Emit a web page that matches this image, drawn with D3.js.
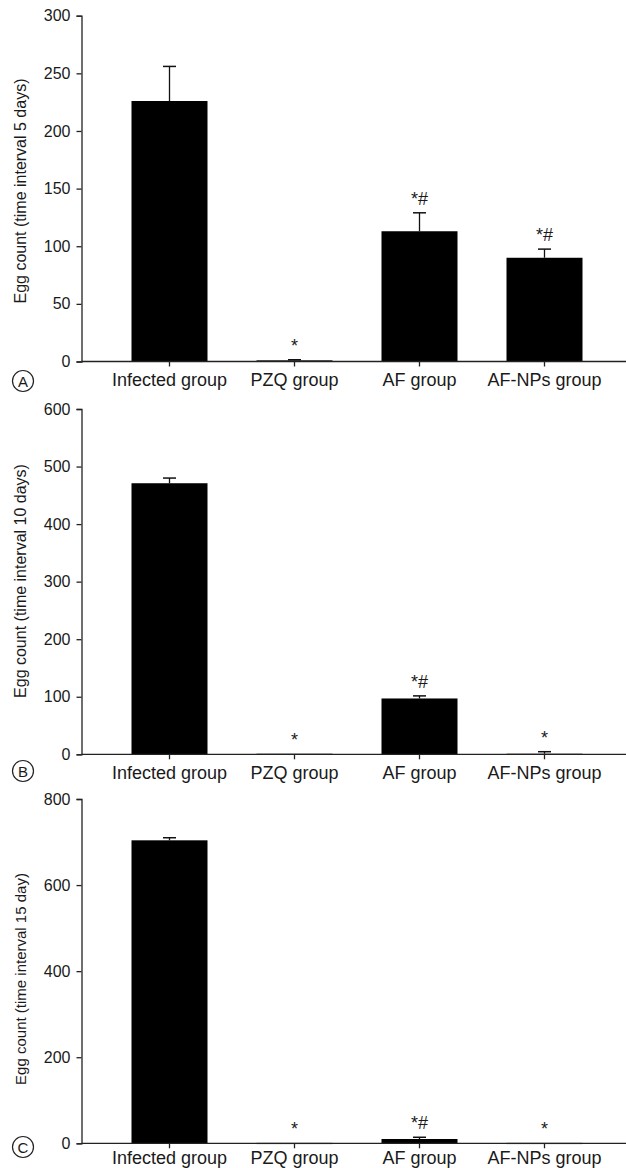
<!DOCTYPE html>
<html>
<head>
<meta charset="utf-8">
<script src="https://cdn.jsdelivr.net/npm/d3@7/dist/d3.min.js"></script>
<style>
  html, body { margin: 0; padding: 0; background: #fff; }
  svg { display: block; }
  text { font-family: "Liberation Sans", Arial, Helvetica, sans-serif; fill: #1a1a1a; }
</style>
</head>
<body>
<svg id="chart" width="626" height="1168"></svg>
<script>
// ---- Data ----
const categories = ["Infected group", "PZQ group", "AF group", "AF-NPs group"];

const panelLabels = ["A", "B", "C"];
const yTitles = [
  "Egg count (time interval 5 days)",
  "Egg count (time interval 10 days)",
  "Egg count (time interval 15 day)"
];
const yMax = [300, 600, 800];
const yTickValues = [
  [0, 50, 100, 150, 200, 250, 300],
  [0, 100, 200, 300, 400, 500, 600],
  [0, 200, 400, 600, 800]
];

const means5  = [226, 1, 113, 90];
const errors5 = [30, 0.5, 16, 7.5];
const marks5  = ["", "*", "*#", "*#"];

const means10  = [471, 1, 97, 1];
const errors10 = [9, 0, 4.5, 3.5];
const marks10  = ["", "*", "*#", "*"];

const means15  = [704, 1, 10, 1];
const errors15 = [6, 0, 4, 0];
const marks15  = ["", "*", "*#", "*"];

const seriesMeans = [means5, means10, means15];
const seriesErrors = [errors5, errors10, errors15];
const seriesMarks = [marks5, marks10, marks15];

// ---- Layout ----
const svg = d3.select("#chart");
const axisX = 81.5;
const panels = [
  { top: 15.7, bottom: 361.5, titleY: 191, titleSize: 16, circleY: 381, labelPad: 7 },
  { top: 409, bottom: 754.3, titleY: 581, titleSize: 16, circleY: 771, labelPad: 7 },
  { top: 799, bottom: 1143.3, titleY: 979, titleSize: 15, circleY: 1147, labelPad: 3 }
];

const x = d3.scaleBand()
  .domain(categories)
  .range([107, 607])
  .paddingInner(0.392)
  .paddingOuter(0.196);

panels.forEach((p, i) => {
  const g = svg.append("g");
  const y = d3.scaleLinear().domain([0, yMax[i]]).range([p.bottom, p.top]);
  const means = seriesMeans[i], errs = seriesErrors[i], marks = seriesMarks[i];
  const data = categories.map((c, k) => ({ c, m: means[k], e: errs[k], s: marks[k] }));

  // bars
  g.selectAll("rect.bar").data(data).join("rect")
    .attr("class", "bar")
    .attr("x", d => x(d.c))
    .attr("width", x.bandwidth())
    .attr("y", d => y(d.m))
    .attr("height", d => Math.max(1.2, y(0) - y(d.m)))
    .attr("fill", "#000");

  // error bars (upper only)
  const cx = d => x(d.c) + x.bandwidth() / 2;
  const eb = g.selectAll("g.err").data(data.filter(d => d.e > 0)).join("g").attr("class", "err");
  eb.append("line")
    .attr("x1", cx).attr("x2", cx)
    .attr("y1", d => y(d.m)).attr("y2", d => y(d.m + d.e))
    .attr("stroke", "#111").attr("stroke-width", 1.3);
  eb.append("line")
    .attr("x1", d => cx(d) - 6.5).attr("x2", d => cx(d) + 6.5)
    .attr("y1", d => y(d.m + d.e)).attr("y2", d => y(d.m + d.e))
    .attr("stroke", "#111").attr("stroke-width", 1.5);

  // significance marks
  g.selectAll("text.mark").data(data.filter(d => d.s)).join("text")
    .attr("class", "mark")
    .attr("x", cx)
    .attr("y", d => y(d.m + d.e) - 8)
    .attr("text-anchor", "middle")
    .attr("font-size", 18)
    .text(d => d.s);

  // y axis
  const ya = d3.axisLeft(y).tickValues(yTickValues[i]).tickSize(5).tickPadding(6).tickFormat(d3.format("d"));
  const yg = g.append("g").attr("transform", `translate(${axisX},0)`).call(ya);
  yg.select(".domain").attr("stroke", "#222").attr("stroke-width", 1.3);
  yg.selectAll(".tick line").attr("stroke", "#222").attr("stroke-width", 1.3);
  yg.selectAll(".tick text").attr("font-size", 16).attr("fill", "#1a1a1a")
    .attr("font-family", "'Liberation Sans', Arial, sans-serif");

  // x axis
  const xa = d3.axisBottom(x).tickSize(5).tickPadding(p.labelPad).tickSizeOuter(0);
  const xg = g.append("g").attr("transform", `translate(0,${p.bottom})`).call(xa);
  xg.select(".domain").remove();
  xg.append("line").attr("x1", axisX).attr("x2", 626).attr("y1", 0).attr("y2", 0)
    .attr("stroke", "#222").attr("stroke-width", 1.3);
  xg.selectAll(".tick line").attr("stroke", "#222").attr("stroke-width", 1.3);
  xg.selectAll(".tick text").attr("font-size", 18).attr("fill", "#1a1a1a")
    .attr("font-family", "'Liberation Sans', Arial, sans-serif");

  // y title
  g.append("text")
    .attr("transform", `translate(26,${p.titleY}) rotate(-90)`)
    .attr("text-anchor", "middle")
    .attr("font-size", p.titleSize)
    .text(yTitles[i]);

  // panel label circle
  g.append("circle").attr("cx", 23).attr("cy", p.circleY).attr("r", 10.5)
    .attr("fill", "none").attr("stroke", "#222").attr("stroke-width", 1.2);
  g.append("text").attr("x", 23).attr("y", p.circleY + 5.5)
    .attr("text-anchor", "middle").attr("font-size", 15)
    .text(panelLabels[i]);
});
</script>
</body>
</html>
